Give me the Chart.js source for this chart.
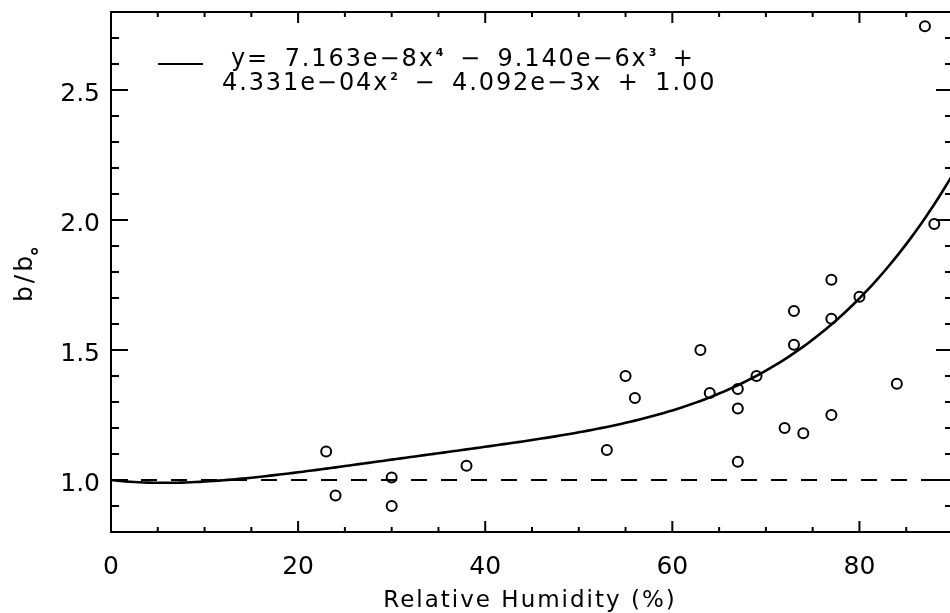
<!DOCTYPE html>
<html>
<head>
<meta charset="utf-8">
<script src="https://cdn.jsdelivr.net/npm/chart.js@4/dist/chart.umd.min.js"></script>
<style>
  html, body { margin: 0; padding: 0; background: #fff; overflow: hidden; }
  #wrap { width: 960px; height: 613px; }
</style>
</head>
<body>
<div id="wrap"><canvas id="c" width="960" height="613"></canvas></div>
<script>
// Measured scattering ratio versus relative humidity
const rh    = [23, 24, 30, 30, 38, 53, 55, 56, 63, 64, 67, 67, 67, 69, 72, 73, 73, 74, 77, 77, 77, 80, 84, 87, 88];
const ratio = [1.11, 0.94, 1.01, 0.90, 1.055, 1.115, 1.40, 1.315, 1.50, 1.335, 1.35, 1.275, 1.07, 1.40, 1.20,
               1.65, 1.52, 1.18, 1.77, 1.62, 1.25, 1.705, 1.37, 2.745, 1.985];

// Polynomial fit coefficients, ascending powers of x (as printed in the legend)
const fitCoef = [1.00, -4.092e-3, 4.331e-4, -9.140e-6, 7.163e-8];
const fitStep = 0.5;

// Reference level b/bo = 1
const baseLevel = 1.0;

// Axis ranges and ticks
const xRange = [0, 90];
const yRange = [0.8, 2.8];
const xMajorTicks = [0, 20, 40, 60, 80];
const xMinorTicks = [5, 10, 15, 25, 30, 35, 45, 50, 55, 65, 70, 75, 85];
const yMajorTicks = [1.0, 1.5, 2.0, 2.5];
const yMinorTicks = [0.9, 1.1, 1.2, 1.3, 1.4, 1.6, 1.7, 1.8, 1.9, 2.1, 2.2, 2.3, 2.4, 2.6, 2.7];
const xTickLabels = ['0', '20', '40', '60', '80'];
const yTickLabels = ['1.0', '1.5', '2.0', '2.5'];

const xTitle = 'Relative Humidity (%)';
const legendLine1 = [['y= 7.163e\u22128x', false], ['4', true], [' \u2212 9.140e\u22126x', false], ['3', true], [' +', false]];
const legendLine2 = [['4.331e\u221204x', false], ['2', true], [' \u2212 4.092e\u22123x + 1.00', false]];

function polyAt(x) {
  let s = 0, p = 1;
  for (const c of fitCoef) { s += c * p; p *= x; }
  return s;
}
const fitPoints = [];
for (let x = xRange[0]; x <= xRange[1] + 1e-9; x += fitStep) fitPoints.push({ x: x, y: polyAt(x) });

const FONT = '"DejaVu Sans", sans-serif';

function drawRich(ctx, x, baseline, segs) {
  let cx = x;
  for (const [txt, sup] of segs) {
    if (sup) {
      ctx.font = 'bold 11px ' + FONT;
      ctx.letterSpacing = '0px';
      ctx.wordSpacing = '0px';
      ctx.fillText(txt, cx + 1, baseline - 10);
      cx += ctx.measureText(txt).width + 2;
    } else {
      ctx.font = '24px ' + FONT;
      ctx.letterSpacing = '1.9px';
      ctx.wordSpacing = '6px';
      ctx.fillText(txt, cx, baseline);
      cx += ctx.measureText(txt).width;
    }
  }
  ctx.letterSpacing = '0px';
  ctx.wordSpacing = '0px';
}

const framePlugin = {
  id: 'frame',
  afterDraw(chart) {
    const ctx = chart.ctx;
    const a = chart.chartArea;
    const xs = chart.scales.x, ys = chart.scales.y;
    ctx.save();
    ctx.strokeStyle = '#000';
    ctx.fillStyle = '#000';
    ctx.lineWidth = 2;
    ctx.strokeRect(a.left, a.top, a.right - a.left, a.bottom - a.top);

    ctx.beginPath();
    // x ticks on bottom and top, pointing inward
    for (const v of xMajorTicks) {
      const px = xs.getPixelForValue(v);
      ctx.moveTo(px, a.bottom); ctx.lineTo(px, a.bottom - 11);
      ctx.moveTo(px, a.top); ctx.lineTo(px, a.top + 11);
    }
    for (const v of xMinorTicks) {
      const px = xs.getPixelForValue(v);
      ctx.moveTo(px, a.bottom); ctx.lineTo(px, a.bottom - 5);
      ctx.moveTo(px, a.top); ctx.lineTo(px, a.top + 5);
    }
    // y ticks on left and right
    for (const v of yMajorTicks) {
      const py = ys.getPixelForValue(v);
      ctx.moveTo(a.left, py); ctx.lineTo(a.left + 17, py);
      ctx.moveTo(a.right, py); ctx.lineTo(a.right - 17, py);
    }
    for (const v of yMinorTicks) {
      const py = ys.getPixelForValue(v);
      ctx.moveTo(a.left, py); ctx.lineTo(a.left + 8, py);
      ctx.moveTo(a.right, py); ctx.lineTo(a.right - 8, py);
    }
    ctx.stroke();

    // tick labels
    ctx.font = '25px ' + FONT;
    ctx.textBaseline = 'alphabetic';
    ctx.textAlign = 'center';
    xMajorTicks.forEach((v, i) => {
      ctx.fillText(xTickLabels[i], xs.getPixelForValue(v), a.bottom + 42);
    });
    ctx.textAlign = 'right';
    yMajorTicks.forEach((v, i) => {
      ctx.fillText(yTickLabels[i], a.left - 11, ys.getPixelForValue(v) + 11);
    });

    // x axis title
    ctx.textAlign = 'center';
    ctx.font = '23px ' + FONT;
    ctx.letterSpacing = '2px';
    ctx.fillText(xTitle, 530, 607);
    ctx.letterSpacing = '0px';

    // y axis title: b/b with a small subscript o
    ctx.save();
    ctx.translate(32, 302);
    ctx.rotate(-Math.PI / 2);
    ctx.textAlign = 'left';
    ctx.font = '25px ' + FONT;
    ctx.letterSpacing = '3px';
    ctx.fillText('b/b', 0, 0);
    const w = ctx.measureText('b/b').width;
    ctx.letterSpacing = '0px';
    ctx.lineWidth = 1.6;
    ctx.beginPath();
    ctx.arc(w + 1.5, 2.5, 2.6, 0, Math.PI * 2);
    ctx.stroke();
    ctx.restore();

    // legend
    ctx.lineWidth = 2;
    ctx.beginPath();
    ctx.moveTo(158, 64); ctx.lineTo(203, 64);
    ctx.stroke();
    ctx.textAlign = 'left';
    drawRich(ctx, 231, 65.5, legendLine1);
    drawRich(ctx, 222, 89.5, legendLine2);
    ctx.restore();
  }
};

new Chart(document.getElementById('c'), {
  type: 'scatter',
  data: {
    datasets: [
      {
        label: 'base',
        data: [{ x: xRange[0], y: baseLevel }, { x: xRange[1], y: baseLevel }],
        showLine: true,
        borderColor: '#000',
        borderWidth: 2,
        borderDash: [16, 14],
        pointRadius: 0
      },
      {
        label: 'fit',
        data: fitPoints,
        showLine: true,
        borderColor: '#000',
        borderWidth: 2.6,
        pointRadius: 0,
        tension: 0
      },
      {
        label: 'obs',
        data: rh.map((x, i) => ({ x: x, y: ratio[i] })),
        pointStyle: 'circle',
        pointRadius: 5,
        pointBorderWidth: 2,
        borderColor: '#000',
        backgroundColor: 'rgba(0,0,0,0)',
        showLine: false
      }
    ]
  },
  options: {
    responsive: false,
    animation: false,
    devicePixelRatio: 1,
    layout: { padding: { left: 111, top: 12, right: 5, bottom: 81 } },
    plugins: { legend: { display: false }, tooltip: { enabled: false } },
    scales: {
      x: { type: 'linear', min: xRange[0], max: xRange[1], display: false },
      y: { type: 'linear', min: yRange[0], max: yRange[1], display: false }
    }
  },
  plugins: [framePlugin]
});
</script>
</body>
</html>
